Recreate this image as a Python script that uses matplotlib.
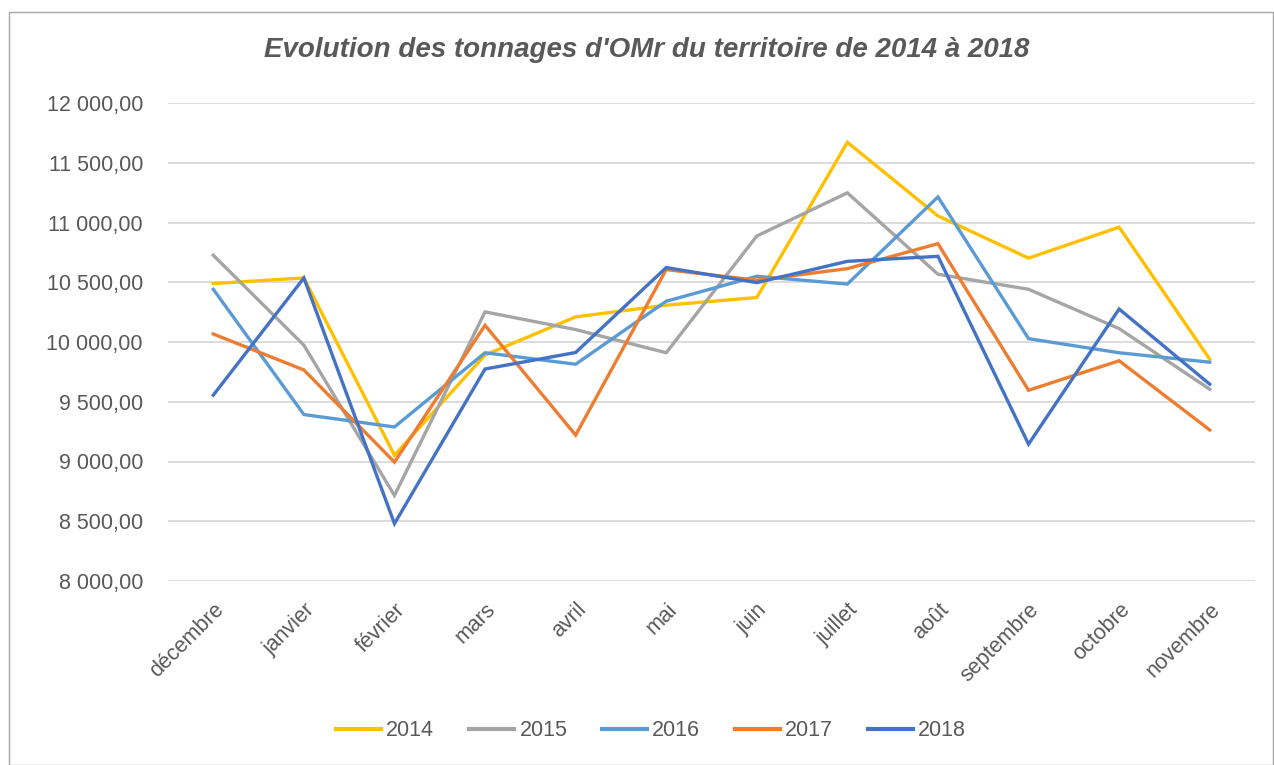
import matplotlib
matplotlib.use("Agg")
import matplotlib.pyplot as plt
from matplotlib.ticker import FuncFormatter, MultipleLocator
from matplotlib.patches import Rectangle

plt.rcParams['font.family'] = ['Liberation Sans', 'DejaVu Sans']

mois = ["décembre", "janvier", "février", "mars", "avril", "mai", "juin",
        "juillet", "août", "septembre", "octobre", "novembre"]

t2014 = [10489, 10536, 9052, 9891, 10210, 10308, 10372, 11671, 11055, 10702, 10961, 9856]
t2015 = [10726, 9973, 8716, 10252, 10104, 9910, 10887, 11248, 10567, 10441, 10112, 9605]
t2016 = [10441, 9393, 9289, 9910, 9814, 10341, 10550, 10485, 11214, 10028, 9910, 9831]
t2017 = [10067, 9766, 8995, 10140, 9221, 10606, 10517, 10614, 10823, 9596, 9843, 9264]
t2018 = [9555, 10536, 8480, 9774, 9912, 10623, 10497, 10675, 10717, 9145, 10276, 9647]

annees = ["2014", "2015", "2016", "2017", "2018"]
series = [t2014, t2015, t2016, t2017, t2018]
couleurs = ["#FFC000", "#A5A5A5", "#5B9BD5", "#ED7D31", "#4472C4"]

gris = "#595959"

fig = plt.figure(figsize=(12.74, 7.65), dpi=100)
ax = fig.add_axes([168/1274, 1-581/765, (1255-168)/1274, (581-103)/765])

x = range(len(mois))
for nom, vals, c in zip(annees, series, couleurs):
    ax.plot(x, vals, color=c, lw=2.4, label=nom, solid_joinstyle='miter')

ax.set_xlim(-0.5, 11.5)
ax.set_ylim(8000, 12000)
ax.yaxis.set_major_locator(MultipleLocator(500))

def fmt(v, pos):
    s = "{:,.2f}".format(v)
    return s.replace(",", " ").replace(".", ",")

ax.yaxis.set_major_formatter(FuncFormatter(fmt))
ax.set_xticks(list(x))
ax.set_xticklabels(mois, rotation=45, ha='right', rotation_mode='anchor')
ax.tick_params(length=0, labelsize=15.5, colors=gris)
ax.tick_params(axis='y', pad=18)
ax.tick_params(axis='x', pad=13)
ax.grid(axis='y', color="#D9D9D9", lw=1.3)
ax.set_axisbelow(True)
for s in ax.spines.values():
    s.set_visible(False)

fig.text(647/1274, 1-50/765, "Evolution des tonnages d'OMr du territoire de 2014 à 2018",
         ha='center', va='center', fontsize=20, fontweight='bold', style='italic', color=gris)

leg = fig.legend(loc='center', bbox_to_anchor=(651/1274, 1-731/765), ncol=5, frameon=False,
                 fontsize=15.5, labelcolor=gris, handlelength=2.1, handletextpad=0.25,
                 columnspacing=1.6)
for h in leg.get_lines():
    h.set_linewidth(3)

fig.patches.append(Rectangle((9/1274, 0), 1-10/1274, 1-12/765, transform=fig.transFigure,
                             fill=False, edgecolor="#A6A6A6", lw=1))

fig.savefig("out.png", dpi=100)
